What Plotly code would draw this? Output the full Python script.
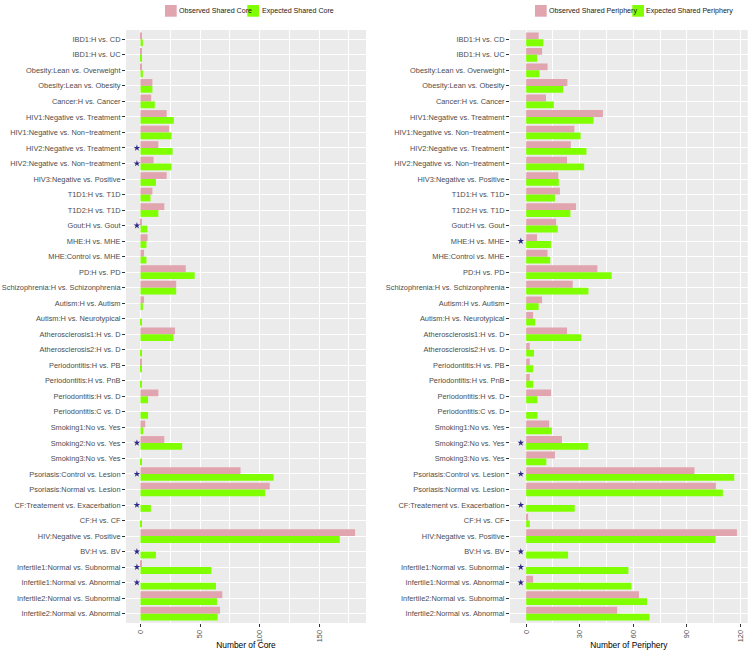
import plotly.graph_objects as go

categories = [
    "IBD1:H vs. CD", "IBD1:H vs. UC", "Obesity:Lean vs. Overweight", "Obesity:Lean vs. Obesity",
    "Cancer:H vs. Cancer", "HIV1:Negative vs. Treatment", "HIV1:Negative vs. Non\u2212treatment",
    "HIV2:Negative vs. Treatment", "HIV2:Negative vs. Non\u2212treatment", "HIV3:Negative vs. Positive",
    "T1D1:H vs. T1D", "T1D2:H vs. T1D", "Gout:H vs. Gout", "MHE:H vs. MHE", "MHE:Control vs. MHE",
    "PD:H vs. PD", "Schizophrenia:H vs. Schizonphrenia", "Autism:H vs. Autism",
    "Autism:H vs. Neurotypical", "Atherosclerosis1:H vs. D", "Atherosclerosis2:H vs. D",
    "Periodontitis:H vs. PB", "Periodontitis:H vs. PnB", "Periodontitis:H vs. D",
    "Periodontitis:C vs. D", "Smoking1:No vs. Yes", "Smoking2:No vs. Yes", "Smoking3:No vs. Yes",
    "Psoriasis:Control vs. Lesion", "Psoriasis:Normal vs. Lesion", "CF:Treatement vs. Exacerbation",
    "CF:H vs. CF", "HIV:Negative vs. Positive", "BV:H vs. BV", "Infertile1:Normal vs. Subnormal",
    "Infertile1:Normal vs. Abnormal", "Infertile2:Normal vs. Subnormal", "Infertile2:Normal vs. Abnormal",
]

observed_core = [1, 1, 1, 10, 9, 22, 24, 15, 11, 22,
                 10, 20, 1, 6, 3, 38, 30, 3, 0, 29,
                 0, 1, 0, 15, 0, 4, 20, 0, 84, 108.5,
                 0, 0, 180.2, 0, 0.8, 0, 68.7, 66.8]
expected_core = [2, 1, 2, 10, 12, 28, 26, 27, 26, 13,
                 8.4, 15, 5.6, 5, 5, 45.5, 30, 2, 0.7, 27.7,
                 0.6, 0.6, 0.6, 6.4, 6.4, 2.2, 35, 0.8, 111.7, 104.7,
                 8.7, 0.6, 167.3, 13, 59.5, 63.4, 64.2, 64.8]

observed_periphery = [7, 8.9, 12, 23.1, 11.1, 43, 27, 25, 22.9, 18,
                      18.9, 27.9, 16.8, 6.1, 12, 39.9, 26.1, 8.9, 3.9, 22.9,
                      2, 2, 2, 13.9, 0, 12.9, 20, 16.1, 94.3, 106.3,
                      0, 1.1, 118.1, 0, 0, 3.9, 63.2, 51]
expected_periphery = [9.6, 6.1, 7.4, 20.7, 15.5, 37.7, 30.5, 33.8, 32.5, 18.3,
                      16.1, 24.8, 17.7, 13.9, 13.5, 47.9, 34.9, 7, 5, 30.9,
                      4.4, 3.9, 3.9, 6.3, 6.3, 14.4, 34.8, 11.3, 116.6, 110.2,
                      27.2, 2, 106.1, 23.5, 57.3, 59, 67.7, 69.1]

star_core = ["HIV2:Negative vs. Treatment", "HIV2:Negative vs. Non\u2212treatment", "Gout:H vs. Gout",
             "Smoking2:No vs. Yes", "Psoriasis:Control vs. Lesion", "CF:Treatement vs. Exacerbation",
             "BV:H vs. BV", "Infertile1:Normal vs. Subnormal", "Infertile1:Normal vs. Abnormal"]
star_periphery = ["MHE:H vs. MHE", "Smoking2:No vs. Yes", "Psoriasis:Control vs. Lesion",
                  "CF:Treatement vs. Exacerbation", "BV:H vs. BV", "Infertile1:Normal vs. Subnormal",
                  "Infertile1:Normal vs. Abnormal"]
star_x = -3

core_ticks = [0, 50, 100, 150]
periphery_ticks = [0, 30, 60, 90, 120]

core_legend = ["Observed Shared Core", "Expected Shared Core"]
periphery_legend = ["Observed Shared Periphery", "Expected Shared Periphery"]

PINK = "#E0A5AF"
GREEN = "#7FFF00"
STAR = "#2E2A86"
FONT = "Liberation Sans, Arial, sans-serif"

W, H = 750, 650
MT, MB = 30, 27

fig = go.Figure()

def add_panel(obs, exp, stars, xa, ya, names):
    fig.add_trace(go.Bar(y=categories, x=obs, orientation="h", name=names[0],
                         marker=dict(color=PINK, line=dict(width=0)), xaxis=xa, yaxis=ya,
                         offsetgroup="o" + xa, showlegend=False))
    fig.add_trace(go.Bar(y=categories, x=exp, orientation="h", name=names[1],
                         marker=dict(color=GREEN, line=dict(width=0)), xaxis=xa, yaxis=ya,
                         offsetgroup="e" + xa, showlegend=False))
    fig.add_trace(go.Scatter(y=stars, x=[star_x] * len(stars), mode="markers",
                             marker=dict(symbol="star", size=5, color=STAR),
                             xaxis=xa, yaxis=ya, showlegend=False, hoverinfo="skip"))

add_panel(observed_core, expected_core, star_core, "x", "y", core_legend)
add_panel(observed_periphery, expected_periphery, star_periphery, "x2", "y2", periphery_legend)

def xrange(obs, exp):
    lo = star_x
    hi = max(max(obs), max(exp))
    pad = (hi - lo) * 0.05
    return [lo - pad, hi + pad]

n = len(categories)
yrange = [n - 1 + 0.6, -0.6]

tickfont = dict(family=FONT, size=7.4, color="#4D4D4D")
common_x = dict(showgrid=True, gridcolor="white", gridwidth=1, zeroline=False,
                ticks="outside", ticklen=3, tickcolor="#333333", tickangle=-90,
                tickfont=tickfont, automargin=False, showline=False,
                title_font=dict(family=FONT, size=8.4, color="black"), title_standoff=2)
common_y = dict(type="category", categoryorder="array", categoryarray=categories,
                range=yrange, showgrid=True, gridcolor="white", gridwidth=1,
                ticks="outside", ticklen=3, tickcolor="#333333", tickfont=tickfont,
                automargin=False, showline=False, zeroline=False)

# manual legends (ggplot style: key box immediately followed by label)
def px_x(px):
    return px / W

def px_y(py):
    return (H - MB - py) / (H - MT - MB)

legend_specs = [
    # (box_left, text_left, color, label)
    (165, 178.3, PINK, core_legend[0]),
    (247.3, 260.5, GREEN, core_legend[1]),
    (535, 548.2, PINK, periphery_legend[0]),
    (632.3, 644.8, GREEN, periphery_legend[1]),
]
shapes = []
annotations = []
for box_left, text_left, color, label in legend_specs:
    shapes.append(dict(type="rect", xref="paper", yref="paper",
                       x0=px_x(box_left), x1=px_x(box_left + 11.7),
                       y0=px_y(16.7), y1=px_y(5), fillcolor=color, line=dict(width=0),
                       layer="above"))
    annotations.append(dict(xref="paper", yref="paper", x=px_x(text_left), y=px_y(10.9),
                            xanchor="left", yanchor="middle", text=label, showarrow=False,
                            borderpad=0, font=dict(family=FONT, size=7.1, color="#1A1A1A")))

fig.update_layout(
    width=W, height=H,
    margin=dict(l=0, r=0, t=MT, b=MB, autoexpand=False),
    paper_bgcolor="white", plot_bgcolor="#EBEBEB",
    barmode="group", bargap=0.12, bargroupgap=0,
    font=dict(family=FONT, size=7.4, color="#4D4D4D"),
    xaxis=dict(domain=[0.168, 0.488], range=xrange(observed_core, expected_core),
               tickvals=core_ticks, ticktext=[str(v) for v in core_ticks],
               minor=dict(dtick=25, tick0=25, gridcolor="white", gridwidth=0.5, showgrid=True),
               title_text="Number of Core", anchor="y", **common_x),
    yaxis=dict(domain=[0, 1], anchor="x", **common_y),
    xaxis2=dict(domain=[0.68, 0.997], range=xrange(observed_periphery, expected_periphery),
                tickvals=periphery_ticks, ticktext=[str(v) for v in periphery_ticks],
                minor=dict(dtick=15, tick0=15, gridcolor="white", gridwidth=0.5, showgrid=True),
                title_text="Number of Periphery", anchor="y2", **common_x),
    yaxis2=dict(domain=[0, 1], anchor="x2", **common_y),
    shapes=shapes,
    annotations=annotations,
    showlegend=False,
)

fig.write_html("out.html", config={"displayModeBar": False},
               post_script="document.body.style.margin='0px';")
